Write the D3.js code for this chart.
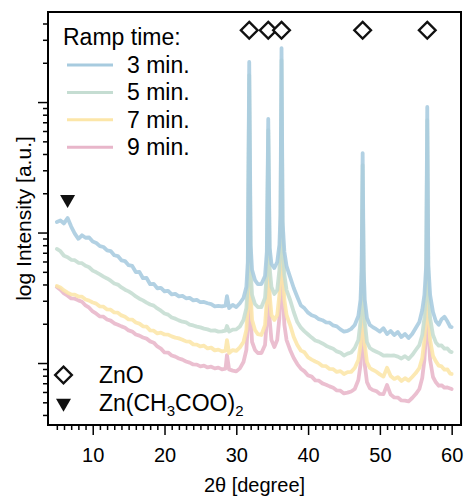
<!DOCTYPE html>
<html lang="en">

<head>
    <meta charset="utf-8">
    <title>XRD: ramp time series</title>
    <script src="https://cdn.jsdelivr.net/npm/d3@7"></script>
    <style type="text/css">
    body {
        margin: 0;
        background: #fff;
    }

    svg text {
        font-family: "Liberation Sans", Arial, Helvetica, sans-serif;
        fill: #000;
    }

    .axis line {
        stroke: #000;
        stroke-width: 1.5;
    }

    .axis path {
        display: none;
    }
    </style>
</head>

<body>
    <script type="text/javascript">
    // 2theta grid (denser around the ZnO reflections)
    var twoTheta = [
        5, 5.5, 6, 6.5, 7, 7.5, 8, 8.5, 9, 9.5,
        10, 10.5, 11, 11.5, 12, 12.5, 13, 13.5, 14, 14.5,
        15, 15.5, 16, 16.5, 17, 17.5, 18, 18.5, 19, 19.5,
        20, 20.5, 21, 21.5, 22, 22.5, 23, 23.5, 24, 24.5,
        25, 25.5, 26, 26.5, 27, 27.5, 28, 28.5, 28.7, 29, 29.5, 30, 30.5,
        31, 31.4, 31.6, 31.8, 32, 32.2, 32.6, 33, 33.5, 34,
        34.25, 34.45, 34.65, 34.9, 35.3, 35.7, 36, 36.15, 36.3, 36.45,
        36.7, 37, 37.5, 38, 38.5, 39, 39.5, 40, 40.5, 41,
        41.5, 42, 42.5, 43, 43.5, 44, 44.5, 45, 45.5, 46,
        46.5, 47, 47.3, 47.45, 47.6, 47.75, 47.9, 48.2, 48.6, 49,
        49.5, 50, 50.5, 51, 51.5, 52, 52.5, 53, 53.5, 54,
        54.5, 55, 55.5, 55.9, 56.2, 56.45, 56.6, 56.75, 57, 57.4,
        57.8, 58.2, 58.6, 59, 59.4, 59.8, 60
    ];

    // log10 intensity (a.u.), one array per ramp time
    var logI_3min = [
        1.080, 1.092, 1.070, 1.111, 1.046, 0.992, 0.952, 0.979, 0.960, 0.962,
        0.931, 0.920, 0.896, 0.889, 0.864, 0.858, 0.826, 0.820, 0.787, 0.781,
        0.750, 0.744, 0.697, 0.699, 0.650, 0.652, 0.604, 0.607, 0.573, 0.576,
        0.550, 0.553, 0.526, 0.530, 0.511, 0.515, 0.496, 0.499, 0.480, 0.484,
        0.466, 0.468, 0.458, 0.452, 0.434, 0.438, 0.434, 0.440, 0.513, 0.421, 0.446, 0.429, 0.458,
        0.498, 0.582, 0.774, 2.307, 0.904, 0.713, 0.636, 0.605, 0.605, 0.667,
        0.851, 1.870, 0.881, 0.759, 0.728, 0.774, 0.904, 1.134, 2.414, 1.080,
        0.851, 0.743, 0.659, 0.575, 0.506, 0.440, 0.419, 0.386, 0.366, 0.357,
        0.336, 0.328, 0.311, 0.309, 0.288, 0.281, 0.258, 0.241, 0.247, 0.262,
        0.291, 0.360, 0.483, 0.713, 1.609, 0.713, 0.483, 0.345, 0.291, 0.276,
        0.259, 0.241, 0.267, 0.222, 0.246, 0.214, 0.238, 0.199, 0.223, 0.191,
        0.222, 0.268, 0.314, 0.406, 0.521, 0.751, 1.962, 0.751, 0.521, 0.391,
        0.320, 0.293, 0.336, 0.354, 0.320, 0.278, 0.276
    ];
    var logI_5min = [
        0.874, 0.857, 0.822, 0.811, 0.791, 0.788, 0.768, 0.765, 0.745, 0.734,
        0.708, 0.695, 0.679, 0.662, 0.648, 0.631, 0.610, 0.601, 0.579, 0.562,
        0.549, 0.532, 0.510, 0.493, 0.480, 0.463, 0.449, 0.440, 0.418, 0.401,
        0.380, 0.371, 0.349, 0.340, 0.327, 0.317, 0.311, 0.294, 0.288, 0.279,
        0.273, 0.264, 0.258, 0.248, 0.250, 0.241, 0.242, 0.248, 0.284, 0.242, 0.256, 0.258, 0.280,
        0.330, 0.421, 0.598, 2.207, 0.713, 0.521, 0.452, 0.429, 0.429, 0.498,
        0.697, 1.785, 0.728, 0.582, 0.529, 0.559, 0.713, 0.981, 2.322, 0.943,
        0.674, 0.559, 0.483, 0.391, 0.314, 0.271, 0.243, 0.219, 0.195, 0.173,
        0.164, 0.150, 0.133, 0.120, 0.110, 0.089, 0.080, 0.058, 0.072, 0.081,
        0.115, 0.176, 0.314, 0.559, 1.517, 0.559, 0.314, 0.161, 0.115, 0.100,
        0.087, 0.074, 0.057, 0.058, 0.057, 0.058, 0.049, 0.035, 0.053, 0.031,
        0.061, 0.100, 0.138, 0.215, 0.345, 0.598, 1.862, 0.598, 0.345, 0.215,
        0.158, 0.133, 0.135, 0.110, 0.112, 0.087, 0.084
    ];
    var logI_7min = [
        0.590, 0.578, 0.556, 0.539, 0.526, 0.524, 0.510, 0.509, 0.487, 0.478,
        0.464, 0.455, 0.434, 0.432, 0.411, 0.409, 0.388, 0.386, 0.365, 0.355,
        0.334, 0.333, 0.311, 0.302, 0.281, 0.279, 0.250, 0.248, 0.227, 0.233,
        0.219, 0.218, 0.204, 0.195, 0.189, 0.179, 0.166, 0.164, 0.143, 0.141,
        0.127, 0.133, 0.112, 0.118, 0.097, 0.103, 0.089, 0.095, 0.176, 0.077, 0.099, 0.093, 0.120,
        0.161, 0.253, 0.444, 1.364, 0.521, 0.330, 0.253, 0.222, 0.215, 0.291,
        0.483, 1.057, 0.521, 0.368, 0.330, 0.368, 0.521, 0.751, 1.402, 0.751,
        0.483, 0.368, 0.291, 0.199, 0.138, 0.095, 0.082, 0.043, 0.026, 0.012,
        -0.001, -0.022, -0.024, -0.045, -0.047, -0.068, -0.062, -0.084, -0.070, -0.068,
        -0.038, 0.023, 0.138, 0.368, 1.172, 0.368, 0.138, 0.008, -0.038, -0.052,
        -0.066, -0.087, -0.104, -0.036, -0.100, -0.122, -0.108, -0.137, -0.116, -0.135,
        -0.107, -0.077, -0.038, 0.038, 0.176, 0.406, 1.249, 0.406, 0.176, 0.054,
        0.013, -0.020, -0.026, -0.051, -0.049, -0.082, -0.084
    ];
    var logI_9min = [
        0.582, 0.562, 0.533, 0.516, 0.495, 0.493, 0.480, 0.470, 0.441, 0.424,
        0.395, 0.378, 0.357, 0.355, 0.334, 0.325, 0.304, 0.294, 0.281, 0.271,
        0.250, 0.241, 0.219, 0.210, 0.196, 0.187, 0.166, 0.156, 0.127, 0.110,
        0.081, 0.080, 0.058, 0.049, 0.035, 0.026, 0.012, 0.003, -0.011, -0.012,
        -0.026, -0.020, -0.034, -0.028, -0.041, -0.035, -0.049, -0.043, 0.061, -0.049, -0.058, -0.064, -0.041,
        0.008, 0.100, 0.291, 1.211, 0.330, 0.161, 0.100, 0.077, 0.077, 0.138,
        0.330, 0.943, 0.330, 0.176, 0.123, 0.176, 0.345, 0.559, 1.249, 0.559,
        0.291, 0.176, 0.100, 0.038, -0.008, -0.043, -0.064, -0.095, -0.104, -0.133,
        -0.135, -0.156, -0.166, -0.179, -0.189, -0.210, -0.212, -0.233, -0.227, -0.218,
        -0.199, -0.130, -0.015, 0.215, 1.057, 0.215, -0.015, -0.146, -0.192, -0.207,
        -0.215, -0.237, -0.238, -0.169, -0.242, -0.264, -0.265, -0.287, -0.288, -0.294,
        -0.268, -0.238, -0.199, -0.115, 0.023, 0.253, 1.134, 0.253, 0.023, -0.107,
        -0.148, -0.174, -0.171, -0.189, -0.187, -0.195, -0.199
    ];

    var seriesNames = ["3 min.", "5 min.", "7 min.", "9 min."];
    var seriesColors = ["#a7cbdf", "#c5ddd2", "#fce6a8", "#e8b6ca"];

    // reference peak positions
    var znoPeaks = [31.8, 34.45, 36.3, 47.6, 56.6];
    var acetatePeaks = [6.5];

    // tick values
    var xMajorTicks = [10, 20, 30, 40, 50, 60];
    var xMinorTicks = d3.range(5, 61).filter(function(d) { return d % 10 !== 0; });
    var yMajorTicks = [1, 10, 100];
    var yMinorTicks = [0.4, 0.5, 0.6, 0.7, 0.8, 0.9, 2, 3, 4, 5, 6, 7, 8, 9,
        20, 30, 40, 50, 60, 70, 80, 90, 200, 300, 400];

    //Width and height
    var outer_width = 467;
    var outer_height = 497;
    var margin = { top: 12, right: 6, bottom: 72, left: 48 };
    var w = outer_width - margin.left - margin.right;
    var h = outer_height - margin.top - margin.bottom;

    var svg = d3.select("body")
        .append("svg")
        .attr("width", outer_width)
        .attr("height", outer_height);

    var xScale = d3.scaleLinear()
        .domain([3.77, 61.3])
        .range([margin.left, margin.left + w]);

    var yScale = d3.scaleLog()
        .domain([0.335, 490])
        .range([margin.top + h, margin.top]);

    // axes: majors and minors, ticks pointing outward
    svg.append("g")
        .attr("class", "axis")
        .attr("transform", "translate(0," + (margin.top + h) + ")")
        .call(d3.axisBottom(xScale).tickValues(xMinorTicks).tickSize(5).tickFormat(""));

    svg.append("g")
        .attr("class", "axis")
        .attr("transform", "translate(0," + (margin.top + h) + ")")
        .call(d3.axisBottom(xScale).tickValues(xMajorTicks).tickSize(10).tickPadding(13)
            .tickFormat(d3.format("d")))
        .selectAll("text")
        .style("font-size", "20px");

    svg.append("g")
        .attr("class", "axis")
        .attr("transform", "translate(" + margin.left + ",0)")
        .call(d3.axisLeft(yScale).tickValues(yMinorTicks).tickSize(5).tickFormat(""));

    svg.append("g")
        .attr("class", "axis")
        .attr("transform", "translate(" + margin.left + ",0)")
        .call(d3.axisLeft(yScale).tickValues(yMajorTicks).tickSize(10).tickFormat(""));

    // curves: longest ramp drawn first so the 3 min. trace sits on top
    var allSeries = [logI_3min, logI_5min, logI_7min, logI_9min];
    var line = d3.line()
        .x(function(d) { return xScale(d[0]); })
        .y(function(d) { return yScale(Math.pow(10, d[1])); });

    d3.range(allSeries.length - 1, -1, -1).forEach(function(k) {
        var pts = twoTheta.map(function(t, i) { return [t, allSeries[k][i]]; });
        svg.append("path")
            .datum(pts)
            .attr("d", line)
            .attr("fill", "none")
            .attr("stroke", seriesColors[k])
            .attr("stroke-opacity", 0.88)
            .attr("stroke-width", 3.8)
            .attr("stroke-linejoin", "round")
            .attr("stroke-linecap", "round");
    });

    // frame
    svg.append("rect")
        .attr("x", margin.left)
        .attr("y", margin.top)
        .attr("width", w)
        .attr("height", h)
        .attr("fill", "none")
        .attr("stroke", "#000")
        .attr("stroke-width", 2);

    // peak markers
    var diamond = d3.symbol().type(d3.symbolDiamond2).size(176);
    var triangle = d3.symbol().type(d3.symbolTriangle2).size(161);

    svg.selectAll(".zno")
        .data(znoPeaks)
        .enter()
        .append("path")
        .attr("class", "zno")
        .attr("d", diamond)
        .attr("transform", function(d) { return "translate(" + xScale(d) + "," + yScale(355) + ")"; })
        .attr("fill", "#fff")
        .attr("stroke", "#111")
        .attr("stroke-width", 2.4);

    svg.selectAll(".acetate")
        .data(acetatePeaks)
        .enter()
        .append("path")
        .attr("class", "acetate")
        .attr("d", triangle)
        .attr("transform", function(d) { return "translate(" + xScale(d) + "," + yScale(18) + ") rotate(180)"; })
        .attr("fill", "#111");

    // legend: ramp time
    svg.append("text")
        .attr("x", 63)
        .attr("y", 45)
        .style("font-size", "23px")
        .text("Ramp time:");

    var legend = svg.selectAll(".leg")
        .data(seriesNames)
        .enter()
        .append("g")
        .attr("class", "leg")
        .attr("transform", function(d, i) { return "translate(0," + (65 + i * 27.4) + ")"; });

    legend.append("line")
        .attr("x1", 67)
        .attr("x2", 113)
        .attr("stroke", function(d, i) { return seriesColors[i]; })
        .attr("stroke-width", 3);

    legend.append("text")
        .attr("x", 127)
        .attr("y", 8)
        .style("font-size", "23px")
        .text(function(d) { return d; });

    // legend: markers
    svg.append("path")
        .attr("d", diamond)
        .attr("transform", "translate(63.5,375)")
        .attr("fill", "#fff")
        .attr("stroke", "#111")
        .attr("stroke-width", 2.4);

    svg.append("text")
        .attr("x", 99)
        .attr("y", 383)
        .style("font-size", "23px")
        .text("ZnO");

    svg.append("path")
        .attr("d", triangle)
        .attr("transform", "translate(63.5,403) rotate(180)")
        .attr("fill", "#111");

    var acText = svg.append("text")
        .attr("x", 99)
        .attr("y", 411)
        .style("font-size", "23px");
    acText.append("tspan").text("Zn(CH");
    acText.append("tspan").attr("dy", 5).style("font-size", "15px").text("3");
    acText.append("tspan").attr("dy", -5).text("COO)");
    acText.append("tspan").attr("dy", 5).style("font-size", "15px").text("2");

    // axis titles
    svg.append("text")
        .attr("x", margin.left + w / 2)
        .attr("y", 492)
        .attr("text-anchor", "middle")
        .style("font-size", "20px")
        .text("2θ [degree]");

    svg.append("text")
        .attr("transform", "translate(23," + (margin.top + h / 2) + ") rotate(-90)")
        .attr("text-anchor", "middle")
        .attr("dominant-baseline", "central")
        .style("font-size", "21px")
        .text("log Intensity [a.u.]");
    </script>
</body>

</html>
